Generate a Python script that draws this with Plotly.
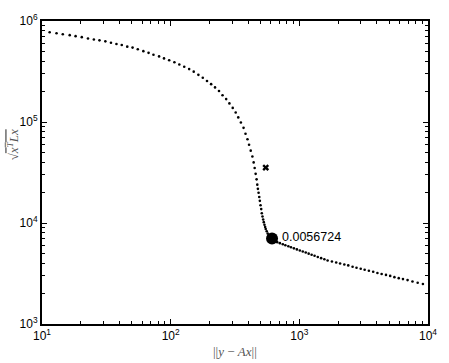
import math
import plotly.graph_objects as go

# L-curve points: residual norm ||y - Ax|| and seminorm sqrt(x^T L x)
residual_norm = [
    11.47, 12.97, 14.51, 16.42, 18.24, 20.38, 22.77, 25.30, 27.97, 31.08,
    34.36, 37.90, 41.68, 45.98, 50.56, 55.51, 61.36, 67.33, 73.50, 81.27,
    88.75, 97.39, 106.9, 116.7, 127.5, 139.2, 151.1, 164.2, 177.7, 191.6,
    206.3, 221.3, 237.5, 253.0, 270.0, 286.1, 303.7, 320.2, 335.2, 351.4,
    368.5, 381.7, 395.4, 406.7, 419.0, 431.7, 441.6, 449.5, 457.5, 465.5,
    471.3, 476.3, 482.2, 488.1, 493.3, 499.4, 505.5, 510.9, 517.2, 523.6,
    529.2, 535.8, 542.4, 548.1, 557.9, 567.7, 577.8, 595.4, 613.5, 642.1,
    673.2, 706.1, 744.3, 779.0, 821.2, 861.1, 907.8, 957.0, 1009, 1063,
    1121, 1182, 1246, 1313, 1391, 1477, 1565, 1659, 1792, 1934,
    2074, 2237, 2400, 2593, 2782, 3000, 3218, 3472, 3750, 4045,
    4362, 4714, 5083, 5482, 5923, 6388, 6936, 7574, 8314, 9127,
]
seminorm = [
    774000, 757000, 740000, 724000, 708000, 692000, 672000, 657000, 643000, 629000,
    609000, 592000, 579000, 557000, 545000, 526000, 503000, 484000, 463000, 446000,
    426500, 408000, 390000, 371000, 352000, 334000, 315000, 293000, 274000, 255000,
    237000, 220000, 203000, 184000, 168600, 152800, 137900, 124200, 111000, 98700,
    87500, 76500, 67500, 59480, 52020, 45500, 39800, 35050, 30650, 27050,
    23980, 21790, 19930, 18110, 16560, 15010, 13730, 12470, 11590, 10840,
    10200, 9608, 9126, 8728, 8290, 7858, 7516, 7253, 7030, 6632,
    6459, 6317, 6161, 6026, 5880, 5750, 5611, 5475, 5343, 5224,
    5098, 4974, 4853, 4736, 4612, 4488, 4370, 4255, 4151, 4064,
    3975, 3887, 3802, 3685, 3603, 3524, 3446, 3370, 3296, 3202,
    3131, 3062, 2995, 2909, 2844, 2782, 2720, 2637, 2562, 2489,
]

# selected corner point and its regularization parameter
corner_x = [613.5]
corner_y = [7030]
corner_label = "0.0056724"

# additional marked point
extra_x = [548.1]
extra_y = [35360]

x_range = [10, 10000]
y_range = [1000, 1000000]
x_tickvals = [10, 100, 1000, 10000]
x_ticktext = ["10<sup>1</sup>", "10<sup>2</sup>", "10<sup>3</sup>", "10<sup>4</sup>"]
y_tickvals = [1000, 10000, 100000, 1000000]
y_ticktext = ["10<sup>3</sup>", "10<sup>4</sup>", "10<sup>5</sup>", "10<sup>6</sup>"]
minor_mult = [2, 3, 4, 5, 6, 7, 8, 9]
x_minor = [m * d for d in x_tickvals[:-1] for m in minor_mult]
y_minor = [m * d for d in y_tickvals[:-1] for m in minor_mult]

fig = go.Figure()
fig.add_trace(go.Scatter(
    x=residual_norm, y=seminorm, mode="markers",
    marker=dict(color="black", size=2.6, line=dict(width=0)),
    showlegend=False, hoverinfo="skip"))
fig.add_trace(go.Scatter(
    x=extra_x, y=extra_y, mode="markers",
    marker=dict(color="black", size=6, symbol="x", line=dict(width=0)),
    showlegend=False))
fig.add_trace(go.Scatter(
    x=corner_x, y=corner_y, mode="markers",
    marker=dict(color="black", size=12, symbol="circle"),
    showlegend=False))
# invisible trace to anchor the mirrored (top/right) tick axes
fig.add_trace(go.Scatter(
    x=x_range, y=y_range, xaxis="x2", yaxis="y2", mode="markers",
    marker=dict(opacity=0), showlegend=False, hoverinfo="skip"))

fig.add_annotation(x=math.log10(corner_x[0]), y=math.log10(corner_y[0]), xref="x", yref="y",
                   text=corner_label, showarrow=False, xanchor="left",
                   yanchor="middle", xshift=8, yshift=1,
                   font=dict(family="Liberation Sans, Arial", size=12.5, color="black"))

lx = [math.log10(v) for v in x_range]
ly = [math.log10(v) for v in y_range]


def axis_style(tickvals, minorvals, **kw):
    return dict(
        type="log", showgrid=False, zeroline=False,
        showline=True, linecolor="black", linewidth=2,
        tickmode="array", tickvals=tickvals,
        ticks="inside", ticklen=5, tickwidth=1, tickcolor="black",
        minor=dict(tickmode="array", tickvals=minorvals, ticks="inside",
                   ticklen=3, tickwidth=1, tickcolor="black", showgrid=False),
        tickfont=dict(family="Liberation Sans, Arial", size=12, color="black"),
        **kw,
    )


fig.update_layout(
    xaxis=axis_style(x_tickvals, x_minor, range=lx, ticktext=x_ticktext),
    yaxis=axis_style(y_tickvals, y_minor, range=ly, ticktext=y_ticktext),
    xaxis2=axis_style(x_tickvals, x_minor, range=lx, overlaying="x", side="top",
                      showticklabels=False, anchor="y2"),
    yaxis2=axis_style(y_tickvals, y_minor, range=ly, overlaying="y", side="right",
                      showticklabels=False, anchor="x2"),
)

fig.add_annotation(xref="paper", yref="paper", x=0.499, y=-0.092,
                   text="||<i>y</i> − <i>Ax</i>||", showarrow=False,
                   xanchor="center", yanchor="middle",
                   font=dict(family="Liberation Serif, DejaVu Serif", size=13, color="#555"))
fig.add_annotation(xref="paper", yref="paper", x=-0.075, y=0.59,
                   text="√<span style='text-decoration:overline'><i>x</i><sup><i>T</i></sup><i>Lx</i></span>",
                   showarrow=False, textangle=-90,
                   xanchor="center", yanchor="middle",
                   font=dict(family="Liberation Serif, DejaVu Serif", size=13, color="#555"))

fig.update_layout(
    width=449, height=363,
    margin=dict(l=42, r=14, t=14, b=39),
    paper_bgcolor="white", plot_bgcolor="white",
)
fig.write_html("out.html", config={"displayModeBar": False},
               post_script="document.body.style.margin='0';")
